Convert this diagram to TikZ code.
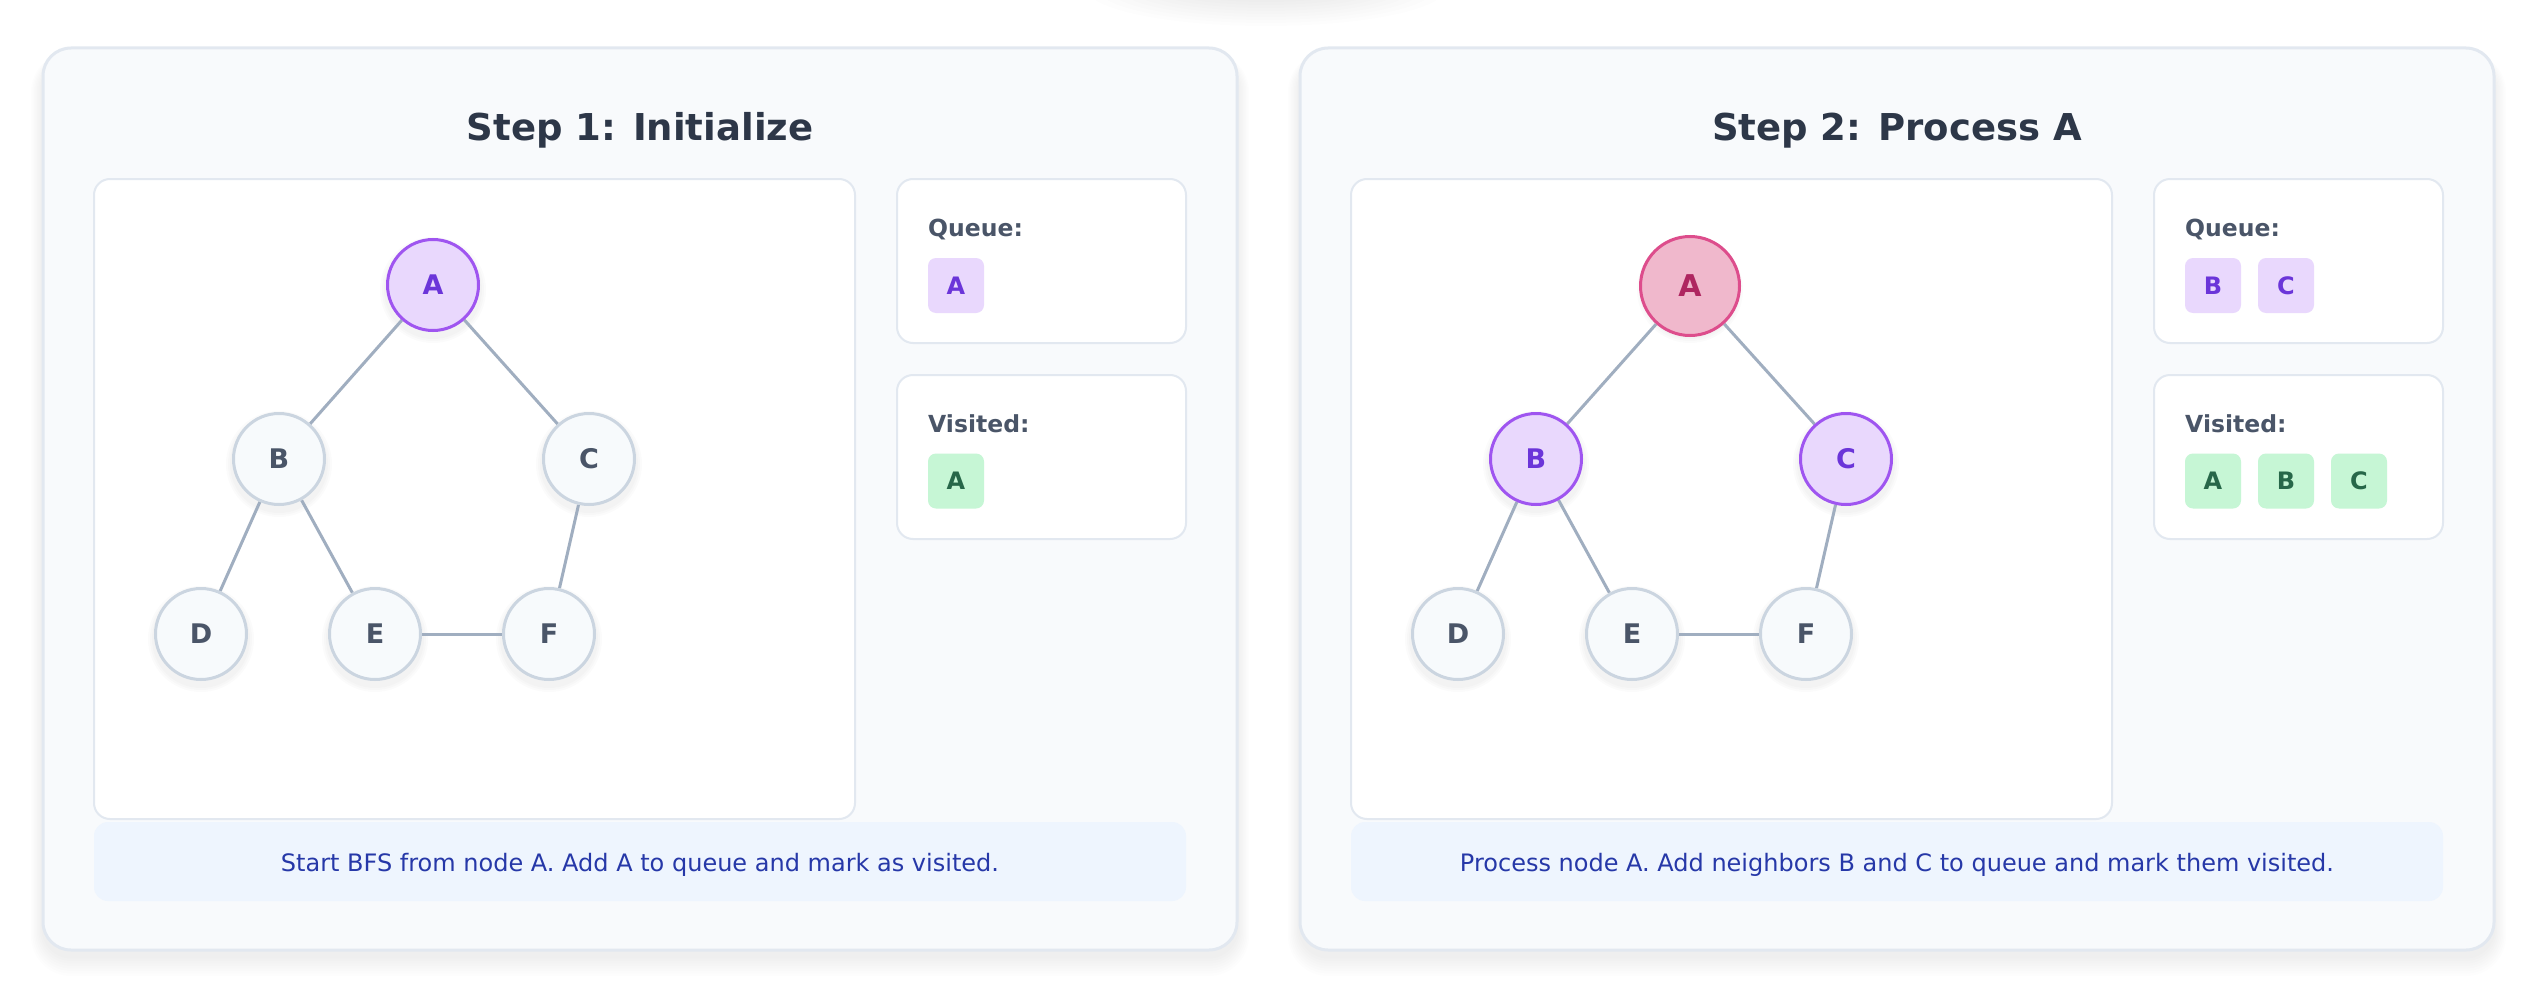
\documentclass[tikz,border=0pt]{standalone}
\usepackage{fontspec}
\setmainfont{DejaVu Sans}
\definecolor{panelbg}{HTML}{F8FAFC}
\definecolor{panelborder}{HTML}{E2E8F0}
\definecolor{descbg}{HTML}{EEF5FE}
\definecolor{desctext}{HTML}{2638A8}
\definecolor{titlecol}{HTML}{2D3748}
\definecolor{labelcol}{HTML}{4A5568}
\definecolor{edgecol}{HTML}{A0AEC0}
\definecolor{nfill}{HTML}{F7FAFC}
\definecolor{nborder}{HTML}{CBD5E0}
\definecolor{ntext}{HTML}{4A5568}
\definecolor{pfill}{HTML}{E9D8FD}
\definecolor{pborder}{HTML}{9F55F0}
\definecolor{ptext}{HTML}{6B35D9}
\definecolor{kfill}{HTML}{F0B8CC}
\definecolor{kborder}{HTML}{DD4D8C}
\definecolor{ktext}{HTML}{AE2660}
\definecolor{gfill}{HTML}{C6F6D5}
\definecolor{gtext}{HTML}{276749}
\pgfdeclarelayer{bg}
\pgfdeclarelayer{edges}
\pgfsetlayers{bg,edges,main}
\tikzset{
  panelbox/.style={fill=panelbg, draw=panelborder, line width=3pt, rounded corners=28pt},
  card/.style={fill=white, draw=panelborder, line width=2pt, rounded corners=16pt},
  descbox/.style={fill=descbg, rounded corners=14pt},
  gnode/.style={circle, minimum size=91pt, inner sep=0pt, line width=3pt, font=\fontsize{27pt}{27pt}\selectfont\bfseries},
  plainnode/.style={gnode, fill=nfill, draw=nborder, text=ntext},
  queuednode/.style={gnode, fill=pfill, draw=pborder, text=ptext},
  currentnode/.style={gnode, minimum size=99pt, fill=kfill, draw=kborder, text=ktext, font=\fontsize{30pt}{30pt}\selectfont\bfseries},
  edgeline/.style={draw=edgecol, line width=3pt},
  chip/.style={rounded corners=8pt, minimum width=56pt, minimum height=55pt, inner sep=0pt, font=\fontsize{24pt}{24pt}\selectfont\bfseries},
  qchip/.style={chip, fill=pfill, text=ptext},
  vchip/.style={chip, fill=gfill, text=gtext},
  titletext/.style={anchor=base, inner sep=0pt, text=titlecol, font=\fontsize{37pt}{40pt}\selectfont\bfseries},
  labeltext/.style={anchor=base west, inner sep=0pt, text=labelcol, font=\fontsize{23.5pt}{26pt}\selectfont\bfseries},
  desctextstyle/.style={anchor=base, inner sep=0pt, text=desctext, font=\fontsize{24pt}{28pt}\selectfont},
}
\begin{document}
\begin{tikzpicture}[x=1pt,y=-1pt]
\useasboundingbox (0,0) rectangle (2536,990);
\begin{pgfonlayer}{bg}
\fill[white] (0,0) rectangle (2536,990);
% top blurred shadow
\foreach \i in {1,...,10} {
  \fill[black,opacity=0.006] (1266,-12) ellipse ({70+11*\i} and {8+3*\i});
}
% panel shadows
\foreach \dx in {0,1257} {
  \foreach \i in {1,...,8} {
    \fill[black,opacity=0.006,rounded corners={28+1.5*\i}]
      ({43+\dx-1.5*\i},{60-\i}) rectangle ({1237+\dx+1.5*\i},{956+2.5*\i});
  }
  \draw[panelbox] ({43+\dx},48) rectangle ({1237+\dx},950);
  \draw[card] ({94+\dx},179) rectangle ({855+\dx},819);
  \draw[card] ({897+\dx},179) rectangle ({1186+\dx},343);
  \draw[card] ({897+\dx},375) rectangle ({1186+\dx},539);
  \fill[descbox] ({94+\dx},822) rectangle ({1186+\dx},901);
}
% node shadows
\foreach \x/\y in {433/285,279/459,589/459,201/634,375/634,549/634,
                   1690/285,1536/459,1846/459,1458/634,1632/634,1806/634} {
  \foreach \r in {49,51,53} {
    \fill[black,opacity=0.015] (\x,{\y+5}) circle (\r);
  }
}
\end{pgfonlayer}

% ---------- Panel 1 ----------
\node[titletext] (t1) at (640,140) {Step 1: Initialize};
\node[queuednode] (a1) at (433,285) {A};
\node[plainnode] (b1) at (279,459) {B};
\node[plainnode] (c1) at (589,459) {C};
\node[plainnode] (d1) at (201,634) {D};
\node[plainnode] (e1) at (375,634) {E};
\node[plainnode] (f1) at (549,634) {F};
\node[labeltext] (ql1) at (928,236) {Queue:};
\node[qchip] (q1a) at (956,285.5) {A};
\node[labeltext] (vl1) at (928,432) {Visited:};
\node[vchip] (v1a) at (956,481) {A};
\node[desctextstyle] (s1) at (640,871) {Start BFS from node A. Add A to queue and mark as visited.};

% ---------- Panel 2 ----------
\node[titletext] (t2) at (1897,140) {Step 2: Process A};
\node[currentnode] (a2) at (1690,286) {A};
\node[queuednode] (b2) at (1536,459) {B};
\node[queuednode] (c2) at (1846,459) {C};
\node[plainnode] (d2) at (1458,634) {D};
\node[plainnode] (e2) at (1632,634) {E};
\node[plainnode] (f2) at (1806,634) {F};
\node[labeltext] (ql2) at (2185,236) {Queue:};
\node[qchip] (q2b) at (2213,285.5) {B};
\node[qchip] (q2c) at (2286,285.5) {C};
\node[labeltext] (vl2) at (2185,432) {Visited:};
\node[vchip] (v2a) at (2213,481) {A};
\node[vchip] (v2b) at (2286,481) {B};
\node[vchip] (v2c) at (2359,481) {C};
\node[desctextstyle] (s2) at (1897,871) {Process node A. Add neighbors B and C to queue and mark them visited.};

\begin{pgfonlayer}{edges}
\draw[edgeline] (a1) -- (b1);
\draw[edgeline] (a1) -- (c1);
\draw[edgeline] (b1) -- (d1);
\draw[edgeline] (b1) -- (e1);
\draw[edgeline] (c1) -- (f1);
\draw[edgeline] (e1) -- (f1);
\draw[edgeline] (a2) -- (b2);
\draw[edgeline] (a2) -- (c2);
\draw[edgeline] (b2) -- (d2);
\draw[edgeline] (b2) -- (e2);
\draw[edgeline] (c2) -- (f2);
\draw[edgeline] (e2) -- (f2);
\end{pgfonlayer}
\end{tikzpicture}
\end{document}
